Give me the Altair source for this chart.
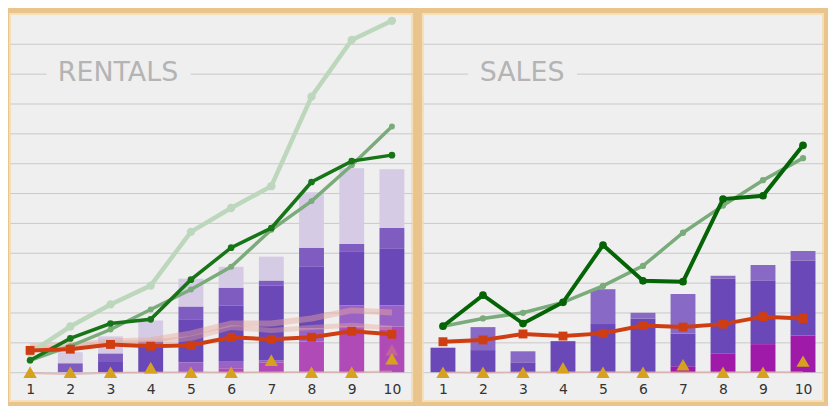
import pandas as pd
import altair as alt


# Shared x categories (1..10)
DAYS = list(range(1, 11))

# Rentals: stacked bar segments, bottom to top
RENT_MAGENTA = [0, 0, 0, 0, 0, 0.13, 0.33, 1.03, 1.53, 1.53]
RENT_LIGHT = [0, 0, 0, 0, 0.33, 0.24, 0.07, 0.44, 0.7, 0.7]
RENT_DARK = [0, 0, 0.37, 1.03, 1.44, 1.86, 2.5, 2.06, 1.8, 1.9]
RENT_MEDIUM = [0, 0.3, 0.26, 0, 0.43, 0.6, 0.17, 0.64, 0.27, 0.7]
RENT_LAVENDER = [0, 0.37, 0.57, 0.7, 0.93, 0.7, 0.8, 1.86, 2.53, 1.97]

# Rentals: lines
RENT_LIGHT_GREEN = [0.65, 1.53, 2.27, 2.9, 4.7, 5.5, 6.23, 9.23, 11.13, 11.77]
RENT_MID_GREEN = [0.4, 0.87, 1.43, 2.1, 2.77, 3.53, 4.77, 5.73, 6.93, 8.23]
RENT_DARK_GREEN = [0.4, 1.13, 1.63, 1.77, 3.1, 4.17, 4.83, 6.37, 7.07, 7.27]
RENT_RED = [0.73, 0.77, 0.93, 0.87, 0.9, 1.17, 1.1, 1.17, 1.37, 1.27]
RENT_SALMON_HI = [0.87, 0.9, 1.03, 1.07, 1.3, 1.63, 1.63, 1.8, 2.07, 2.0]
RENT_SALMON_LO = [0.8, 0.83, 0.97, 1.0, 1.13, 1.5, 1.4, 1.5, 1.57, 1.47]
RENT_FLOOR = [-0.03, -0.07, -0.02, -0.01, 0.0, -0.01, 0.0, 0.01, 0.0, 0.02]
RENT_MARKERS = [0, 0, 0, 0.15, 0, 0, 0.4, 0, 0, 0.45]
RENT_GHOST_MARKERS = [0, 0, 0, 0.15, 0, 0, 0.4, 0, 0, 0.75]

# Sales: stacked bar segments, bottom to top
SALE_MAGENTA = [0, 0, 0, 0, 0, 0, 0.2, 0.63, 0.94, 1.23]
SALE_DARK = [0.82, 0.74, 0.33, 1.04, 1.61, 1.8, 1.1, 2.5, 2.12, 2.51]
SALE_MEDIUM = [0, 0.77, 0.37, 0, 1.17, 0.19, 1.32, 0.1, 0.53, 0.32]

# Sales: lines
SALE_MID_GREEN = [1.54, 1.8, 1.99, 2.34, 2.89, 3.56, 4.67, 5.58, 6.43, 7.17]
SALE_DARK_GREEN = [1.54, 2.58, 1.63, 2.34, 4.26, 3.06, 3.03, 5.8, 5.91, 7.6]
SALE_RED = [1.02, 1.08, 1.28, 1.21, 1.3, 1.56, 1.51, 1.61, 1.86, 1.8]
SALE_FLOOR = [0.0, -0.02, 0.0, 0.0, 0.01, 0.0, 0.0, 0.0, 0.01, 0.0]
SALE_MARKERS = [0, 0, 0, 0.15, 0, 0, 0.25, 0, 0, 0.37]

PANEL_BG = "#efefef"
GOLD = "#d6a21e"

# padding=0: bars would otherwise add 5px of continuous padding on x
X_SCALE = alt.Scale(domain=[0.5, 10.5], nice=False, zero=False, padding=0)
Y_SCALE = alt.Scale(domain=[-0.967, 12], nice=False, zero=False, padding=0)


def x_enc():
    return alt.X(
        "day:Q",
        scale=X_SCALE,
        title=None,
        axis=alt.Axis(
            values=DAYS,
            format="d",
            grid=False,
            domain=False,
            ticks=False,
            labelPadding=-12,
            labelBaseline="middle",
            labelFontSize=14,
            labelColor="#333333",
            labelFlush=False,
        ),
    )


def y_enc(stack=False):
    kw = {"stack": "zero"} if stack else {}
    return alt.Y(
        "value:Q",
        scale=Y_SCALE,
        title=None,
        axis=alt.Axis(
            values=list(range(12)),
            grid=True,
            labels=False,
            ticks=False,
            domain=False,
            gridColor="#c9c9c9",
            gridWidth=1,
        ),
        **kw,
    )


def bar_layer(segments, names, colors):
    rows = []
    for order, (name, vals) in enumerate(zip(names, segments)):
        for d, v in zip(DAYS, vals):
            rows.append({"day": d, "value": v, "segment": name, "order": order})
    return (
        alt.Chart(pd.DataFrame(rows))
        .mark_bar(size=25)
        .encode(
            x=x_enc(),
            y=y_enc(stack=True),
            color=alt.Color(
                "segment:N", scale=alt.Scale(domain=names, range=colors), legend=None
            ),
            order=alt.Order("order:Q"),
        )
    )


def line_layer(vals, color, width, point_size=0, shape="circle", opacity=1.0):
    kw = {}
    if point_size:
        kw["point"] = alt.OverlayMarkDef(
            filled=True, color=color, size=point_size, shape=shape, opacity=opacity
        )
    return (
        alt.Chart(pd.DataFrame({"day": DAYS, "value": vals}))
        .mark_line(color=color, strokeWidth=width, opacity=opacity, **kw)
        .encode(x=x_enc(), y=y_enc())
    )


def marker_layer(vals, color, size=175, opacity=1.0):
    return (
        alt.Chart(pd.DataFrame({"day": DAYS, "value": vals}))
        .mark_point(shape="triangle-up", filled=True, color=color, size=size, opacity=opacity)
        .encode(x=x_enc(), y=y_enc())
    )


def title_layers(text, left):
    base = alt.Chart(pd.DataFrame({"t": [text]}))
    style = dict(align="left", baseline="middle", fontSize=27)
    # background-coloured outline cuts the grid line behind the title
    mask = base.mark_text(
        color=PANEL_BG, stroke=PANEL_BG, strokeWidth=28, strokeJoin="round", **style
    ).encode(x=alt.value(left), y=alt.value(59), text="t:N")
    label = base.mark_text(color="#b4b4b4", **style).encode(
        x=alt.value(left), y=alt.value(59), text="t:N"
    )
    return [mask, label]


rentals = alt.layer(
    bar_layer(
        [RENT_MAGENTA, RENT_LIGHT, RENT_DARK, RENT_MEDIUM, RENT_LAVENDER],
        ["r_magenta", "r_light", "r_dark", "r_medium", "r_lavender"],
        ["#b04ab6", "#9b62c6", "#6a48b8", "#7e5cc0", "#d5cbe5"],
    ),
    line_layer(RENT_SALMON_HI, "#e6a898", 6, opacity=0.45),
    line_layer(RENT_SALMON_LO, "#e6a898", 5, opacity=0.4),
    line_layer(RENT_FLOOR, "#dca0a0", 2, opacity=0.6),
    line_layer(RENT_LIGHT_GREEN, "#bdd7bd", 4.5, point_size=70),
    line_layer(RENT_MID_GREEN, "#7aab7a", 3.5, point_size=36),
    line_layer(RENT_DARK_GREEN, "#177517", 3.5, point_size=45),
    line_layer(RENT_RED, "#cf3e12", 4, point_size=80, shape="square"),
    marker_layer(RENT_GHOST_MARKERS, "#d8847a", opacity=0.45),
    marker_layer(RENT_MARKERS, GOLD),
    *title_layers("RENTALS", 48),
).properties(width=404, height=389)

sales = alt.layer(
    bar_layer(
        [SALE_MAGENTA, SALE_DARK, SALE_MEDIUM],
        ["s_magenta", "s_dark", "s_medium"],
        ["#a01aaa", "#6a48b8", "#886ac6"],
    ),
    line_layer(SALE_FLOOR, "#dca0a0", 2, opacity=0.6),
    line_layer(SALE_MID_GREEN, "#7aab7a", 3.5, point_size=40),
    line_layer(SALE_DARK_GREEN, "#056405", 4, point_size=60),
    line_layer(SALE_RED, "#cf3e12", 4, point_size=80, shape="square"),
    marker_layer(SALE_MARKERS, GOLD),
    *title_layers("SALES", 57),
).properties(width=402, height=389)

chart = (
    alt.hconcat(rentals, sales, spacing=9)
    .resolve_scale(color="independent")
    .properties(
        background="#e9c58d",
        padding={"left": 1, "top": 1, "right": 4, "bottom": 3},
    )
    .configure(font="DejaVu Sans")
    .configure_view(fill=PANEL_BG, stroke="#f4dfb8", strokeWidth=2)
)

chart.save("out.html", embed_options={"renderer": "svg", "actions": False})
